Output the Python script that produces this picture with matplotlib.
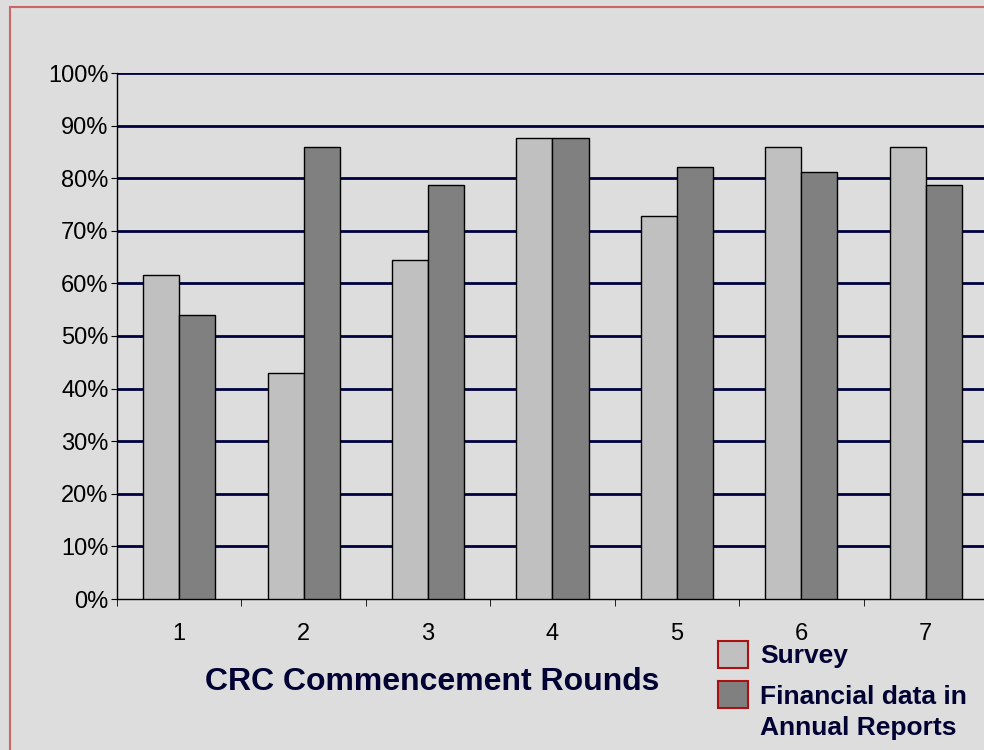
import numpy as np
import matplotlib
matplotlib.use('Agg')
import matplotlib.pyplot as plt
from matplotlib.patches import Rectangle

plt.rcParams['font.family'] = ['Liberation Sans', 'DejaVu Sans']

ROUNDS = ['1', '2', '3', '4', '5', '6', '7']
SURVEY = [61.6, 43.0, 64.4, 87.6, 72.8, 85.9, 85.9]
ANNUAL = [54.0, 85.9, 78.7, 87.6, 82.1, 81.2, 78.7]
YTICKS = [0, 10, 20, 30, 40, 50, 60, 70, 80, 90, 100]

BG = '#dddddd'
NAVY = '#000033'

fig = plt.figure(figsize=(9.84, 7.5), dpi=100, facecolor=BG)
# outer frame (only top and left edges visible)
fig.patches.append(Rectangle((10 / 984, -0.05), 1.1, 1 - 7 / 750 + 0.05,
                             transform=fig.transFigure, fill=False,
                             edgecolor='#cc6666', linewidth=1.5))

ax = fig.add_axes([117 / 984, 1 - 599 / 750, 871 / 984, 526 / 750])
ax.set_facecolor(BG)

x = np.arange(len(ROUNDS))
w = 0.29
ax.bar(x - w / 2, SURVEY, w, color='#c0c0c0', edgecolor='black', linewidth=1, zorder=3)
ax.bar(x + w / 2, ANNUAL, w, color='#808080', edgecolor='black', linewidth=1, zorder=3)

ax.set_xlim(-0.5, len(ROUNDS) - 0.5)
ax.set_ylim(0, 100)
ax.set_yticks(YTICKS)
ax.set_yticklabels([f'{v}%' for v in YTICKS], fontsize=17)
for v in YTICKS[1:]:
    ax.axhline(v, color='#000040', linewidth=2, zorder=1)

ax.set_xticks(x)
ax.set_xticklabels(ROUNDS, fontsize=17)
ax.set_xticks(np.arange(len(ROUNDS) + 1) - 0.5, minor=True)
ax.tick_params(axis='x', which='major', length=0, pad=17)
ax.tick_params(axis='x', which='minor', length=5, direction='out')
ax.tick_params(axis='y', length=4, direction='out', pad=2)

for s in ['top', 'right']:
    ax.spines[s].set_visible(False)
ax.spines['left'].set_linewidth(1)
ax.spines['bottom'].set_linewidth(1)

fig.text(432 / 984, 1 - 690 / 750, 'CRC Commencement Rounds', ha='center', va='baseline',
         fontsize=23, fontweight='bold', color=NAVY)

# legend
fig.patches.append(Rectangle((718 / 984, 1 - 668 / 750), 30 / 984, 27 / 750,
                             transform=fig.transFigure, facecolor='#c0c0c0',
                             edgecolor='#aa1111', linewidth=1.5))
fig.patches.append(Rectangle((718 / 984, 1 - 708 / 750), 30 / 984, 27 / 750,
                             transform=fig.transFigure, facecolor='#808080',
                             edgecolor='#aa1111', linewidth=1.5))
legend_lines = [('Survey', 663), ('Financial data in', 704), ('Annual Reports', 735)]
for txt, base in legend_lines:
    fig.text(760 / 984, 1 - base / 750, txt, va='baseline', fontsize=19,
             fontweight='bold', color=NAVY)

fig.savefig('out.png', dpi=100, facecolor=BG)
